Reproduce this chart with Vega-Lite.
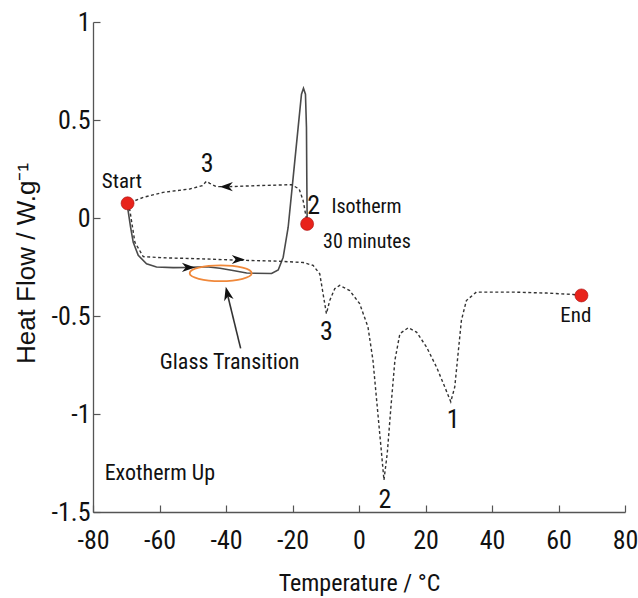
{
  "$schema": "https://vega.github.io/schema/vega-lite/v6.json",
  "width": 532,
  "height": 490,
  "autosize": {"type": "none"},
  "padding": {"left": 93, "top": 22, "right": 13, "bottom": 86},
  "background": "white",
  "config": {
    "view": {"stroke": null},
    "font": "Roboto Condensed, DejaVu Sans Condensed, sans-serif",
    "axis": {
      "grid": false,
      "domainColor": "#555555",
      "domainWidth": 1.3,
      "tickColor": "#555555",
      "tickWidth": 1.2,
      "tickSize": -7,
      "labelFont": "Roboto Condensed, DejaVu Sans Condensed, sans-serif",
      "labelFontSize": 26,
      "labelColor": "#111111",
      "titleColor": "#111111",
      "titleFontWeight": "normal"
    }
  },
  "encoding": {
    "x": {
      "field": "t",
      "type": "quantitative",
      "scale": {"domain": [-80, 80], "nice": false, "zero": false},
      "axis": {
        "values": [-80, -60, -40, -20, 0, 20, 40, 60, 80],
        "labelExpr": "toString(datum.value)",
        "labelPadding": 22,
        "labelFlush": false,
        "title": "Temperature / °C",
        "titleFont": "Roboto Condensed, DejaVu Sans Condensed, sans-serif",
        "titleFontSize": 24,
        "titleY": 71,
        "titleBaseline": "middle"
      }
    },
    "y": {
      "field": "hf",
      "type": "quantitative",
      "scale": {"domain": [-1.5, 1], "nice": false, "zero": false},
      "axis": {
        "values": [-1.5, -1, -0.5, 0, 0.5, 1],
        "labelExpr": "toString(datum.value)",
        "labelPadding": 10,
        "labelFontSize": 26,
        "labelFlush": false,
        "title": "Heat Flow / W.g⁻¹",
        "titleFont": "Liberation Sans, Arial, sans-serif",
        "titleFontSize": 26,
        "titleAngle": -90,
        "titleX": -67,
        "titleY": 241,
        "titleBaseline": "middle",
        "titleAlign": "center"
      }
    }
  },
  "layer": [
    {
      "data": {"values": [
        {"i": 0, "t": -69.6, "hf": 0.075},
        {"i": 1, "t": -69.6, "hf": 0.055},
        {"i": 2, "t": -68.7, "hf": -0.047},
        {"i": 3, "t": -67.9, "hf": -0.124},
        {"i": 4, "t": -66.4, "hf": -0.19},
        {"i": 5, "t": -63.9, "hf": -0.234},
        {"i": 6, "t": -60.9, "hf": -0.25},
        {"i": 7, "t": -55.9, "hf": -0.253},
        {"i": 8, "t": -50.9, "hf": -0.252},
        {"i": 9, "t": -45.9, "hf": -0.249},
        {"i": 10, "t": -41.8, "hf": -0.256},
        {"i": 11, "t": -37.9, "hf": -0.268},
        {"i": 12, "t": -33.8, "hf": -0.281},
        {"i": 13, "t": -26.3, "hf": -0.283},
        {"i": 14, "t": -24.3, "hf": -0.265},
        {"i": 15, "t": -22.8, "hf": -0.2},
        {"i": 16, "t": -21.3, "hf": -0.047},
        {"i": 17, "t": -19.8, "hf": 0.207},
        {"i": 18, "t": -18.3, "hf": 0.462},
        {"i": 19, "t": -17.3, "hf": 0.632},
        {"i": 20, "t": -16.7, "hf": 0.662},
        {"i": 21, "t": -16.1, "hf": 0.632},
        {"i": 22, "t": -15.8, "hf": 0.462},
        {"i": 23, "t": -15.7, "hf": 0.207},
        {"i": 24, "t": -15.6, "hf": 0.004},
        {"i": 25, "t": -15.6, "hf": -0.03}
      ]},
      "mark": {"type": "line", "color": "#4a4a4a", "strokeWidth": 1.6, "interpolate": "linear"},
      "encoding": {"order": {"field": "i", "type": "quantitative"}}
    },
    {
      "data": {"values": [
        {"i": 0, "t": -15.8, "hf": -0.005},
        {"i": 1, "t": -16.8, "hf": 0.089},
        {"i": 2, "t": -18.0, "hf": 0.148},
        {"i": 3, "t": -20.3, "hf": 0.17},
        {"i": 4, "t": -30.8, "hf": 0.165},
        {"i": 5, "t": -38.9, "hf": 0.16},
        {"i": 6, "t": -42.9, "hf": 0.16},
        {"i": 7, "t": -44.9, "hf": 0.177},
        {"i": 8, "t": -45.9, "hf": 0.187},
        {"i": 9, "t": -47.1, "hf": 0.165},
        {"i": 10, "t": -50.9, "hf": 0.148},
        {"i": 11, "t": -58.9, "hf": 0.131},
        {"i": 12, "t": -64.9, "hf": 0.105},
        {"i": 13, "t": -67.9, "hf": 0.085},
        {"i": 14, "t": -69.6, "hf": 0.075},
        {"i": 15, "t": -68.9, "hf": 0.038},
        {"i": 16, "t": -67.4, "hf": -0.124},
        {"i": 17, "t": -64.9, "hf": -0.197},
        {"i": 18, "t": -58.9, "hf": -0.203},
        {"i": 19, "t": -47.9, "hf": -0.208},
        {"i": 20, "t": -36.8, "hf": -0.215},
        {"i": 21, "t": -24.8, "hf": -0.22},
        {"i": 22, "t": -16.8, "hf": -0.227},
        {"i": 23, "t": -13.8, "hf": -0.242},
        {"i": 24, "t": -11.8, "hf": -0.285},
        {"i": 25, "t": -10.8, "hf": -0.387},
        {"i": 26, "t": -9.8, "hf": -0.488},
        {"i": 27, "t": -8.8, "hf": -0.421},
        {"i": 28, "t": -7.3, "hf": -0.361},
        {"i": 29, "t": -5.8, "hf": -0.344},
        {"i": 30, "t": -2.8, "hf": -0.37},
        {"i": 31, "t": 0.2, "hf": -0.437},
        {"i": 32, "t": 2.7, "hf": -0.556},
        {"i": 33, "t": 4.2, "hf": -0.726},
        {"i": 34, "t": 5.4, "hf": -0.947},
        {"i": 35, "t": 6.6, "hf": -1.167},
        {"i": 36, "t": 7.5, "hf": -1.337},
        {"i": 37, "t": 8.5, "hf": -1.201},
        {"i": 38, "t": 9.6, "hf": -0.964},
        {"i": 39, "t": 10.8, "hf": -0.726},
        {"i": 40, "t": 12.3, "hf": -0.59},
        {"i": 41, "t": 14.8, "hf": -0.56},
        {"i": 42, "t": 17.3, "hf": -0.582},
        {"i": 43, "t": 20.3, "hf": -0.658},
        {"i": 44, "t": 23.3, "hf": -0.76},
        {"i": 45, "t": 25.8, "hf": -0.862},
        {"i": 46, "t": 27.6, "hf": -0.938},
        {"i": 47, "t": 28.8, "hf": -0.862},
        {"i": 48, "t": 29.8, "hf": -0.692},
        {"i": 49, "t": 30.8, "hf": -0.522},
        {"i": 50, "t": 32.3, "hf": -0.421},
        {"i": 51, "t": 35.3, "hf": -0.378},
        {"i": 52, "t": 46.3, "hf": -0.378},
        {"i": 53, "t": 56.4, "hf": -0.383},
        {"i": 54, "t": 64.4, "hf": -0.39},
        {"i": 55, "t": 66.9, "hf": -0.395}
      ]},
      "mark": {"type": "line", "color": "#333333", "strokeWidth": 1.4, "strokeDash": [3, 2.5], "interpolate": "linear"},
      "encoding": {"order": {"field": "i", "type": "quantitative"}}
    },
    {
      "data": {"values": [{"t": -41.6, "hf": -0.282}]},
      "mark": {"type": "point", "shape": "M-1,0A1,0.255 0 1,0 1,0A1,0.255 0 1,0 -1,0Z", "size": 3844, "filled": false, "stroke": "#f0883a", "strokeWidth": 1.8, "opacity": 1}
    },
    {
      "data": {"values": [{"t": -35.6, "hf": -0.665, "t2": -39.7, "hf2": -0.38}]},
      "mark": {"type": "rule", "color": "#333333", "strokeWidth": 1.6},
      "encoding": {"x2": {"field": "t2"}, "y2": {"field": "hf2"}}
    },
    {
      "data": {"values": [{"t": -39.6, "hf": -0.385}]},
      "mark": {"type": "point", "shape": "M0,-1L0.7,1L0,0.4L-0.7,1Z", "size": 190, "filled": true, "color": "#111111", "opacity": 1, "angle": -13}
    },
    {
      "data": {"values": [{"t": -51.3, "hf": -0.252}, {"t": -36.3, "hf": -0.212}]},
      "mark": {"type": "point", "shape": "M1,0L-1,-0.7L-0.4,0L-1,0.7Z", "size": 170, "filled": true, "color": "#111111", "opacity": 1}
    },
    {
      "data": {"values": [{"t": -39.9, "hf": 0.16}]},
      "mark": {"type": "point", "shape": "M-1,0L1,-0.7L0.4,0L1,0.7Z", "size": 170, "filled": true, "color": "#111111", "opacity": 1}
    },
    {
      "data": {"values": [
        {"label": "Start", "t": -69.6, "hf": 0.075},
        {"label": "Isotherm", "t": -15.6, "hf": -0.03},
        {"label": "End", "t": 66.9, "hf": -0.395}
      ]},
      "mark": {"type": "point", "shape": "circle", "size": 170, "filled": true, "fill": "#e8231b", "stroke": "#a81010", "strokeWidth": 0.6, "opacity": 1}
    },
    {
      "data": {"values": [
        {"label": "Start", "t": -71.3, "hf": 0.186},
        {"label": "End", "t": 65.2, "hf": -0.5}
      ]},
      "mark": {"type": "text", "fontSize": 21, "align": "center", "baseline": "middle", "color": "#111111"},
      "encoding": {"text": {"field": "label"}}
    },
    {
      "data": {"values": [
        {"label": "Isotherm", "t": -8.3, "hf": 0.055},
        {"label": "30 minutes", "t": -10.8, "hf": -0.124}
      ]},
      "mark": {"type": "text", "fontSize": 20, "align": "left", "baseline": "middle", "color": "#111111"},
      "encoding": {"text": {"field": "label"}}
    },
    {
      "data": {"values": [
        {"label": "3", "t": -45.7, "hf": 0.275},
        {"label": "2", "t": -13.6, "hf": 0.063},
        {"label": "3", "t": -9.8, "hf": -0.582},
        {"label": "2", "t": 7.8, "hf": -1.439},
        {"label": "1", "t": 28.3, "hf": -1.03}
      ]},
      "mark": {"type": "text", "fontSize": 26, "align": "center", "baseline": "middle", "color": "#111111"},
      "encoding": {"text": {"field": "label"}}
    },
    {
      "data": {"values": [{"label": "Glass Transition", "t": -38.9, "hf": -0.735}]},
      "mark": {"type": "text", "fontSize": 22, "align": "center", "baseline": "middle", "color": "#111111"},
      "encoding": {"text": {"field": "label"}}
    },
    {
      "data": {"values": [{"label": "Exotherm Up", "t": -76.5, "hf": -1.3}]},
      "mark": {"type": "text", "fontSize": 22, "align": "left", "baseline": "middle", "color": "#111111"},
      "encoding": {"text": {"field": "label"}}
    }
  ]
}
